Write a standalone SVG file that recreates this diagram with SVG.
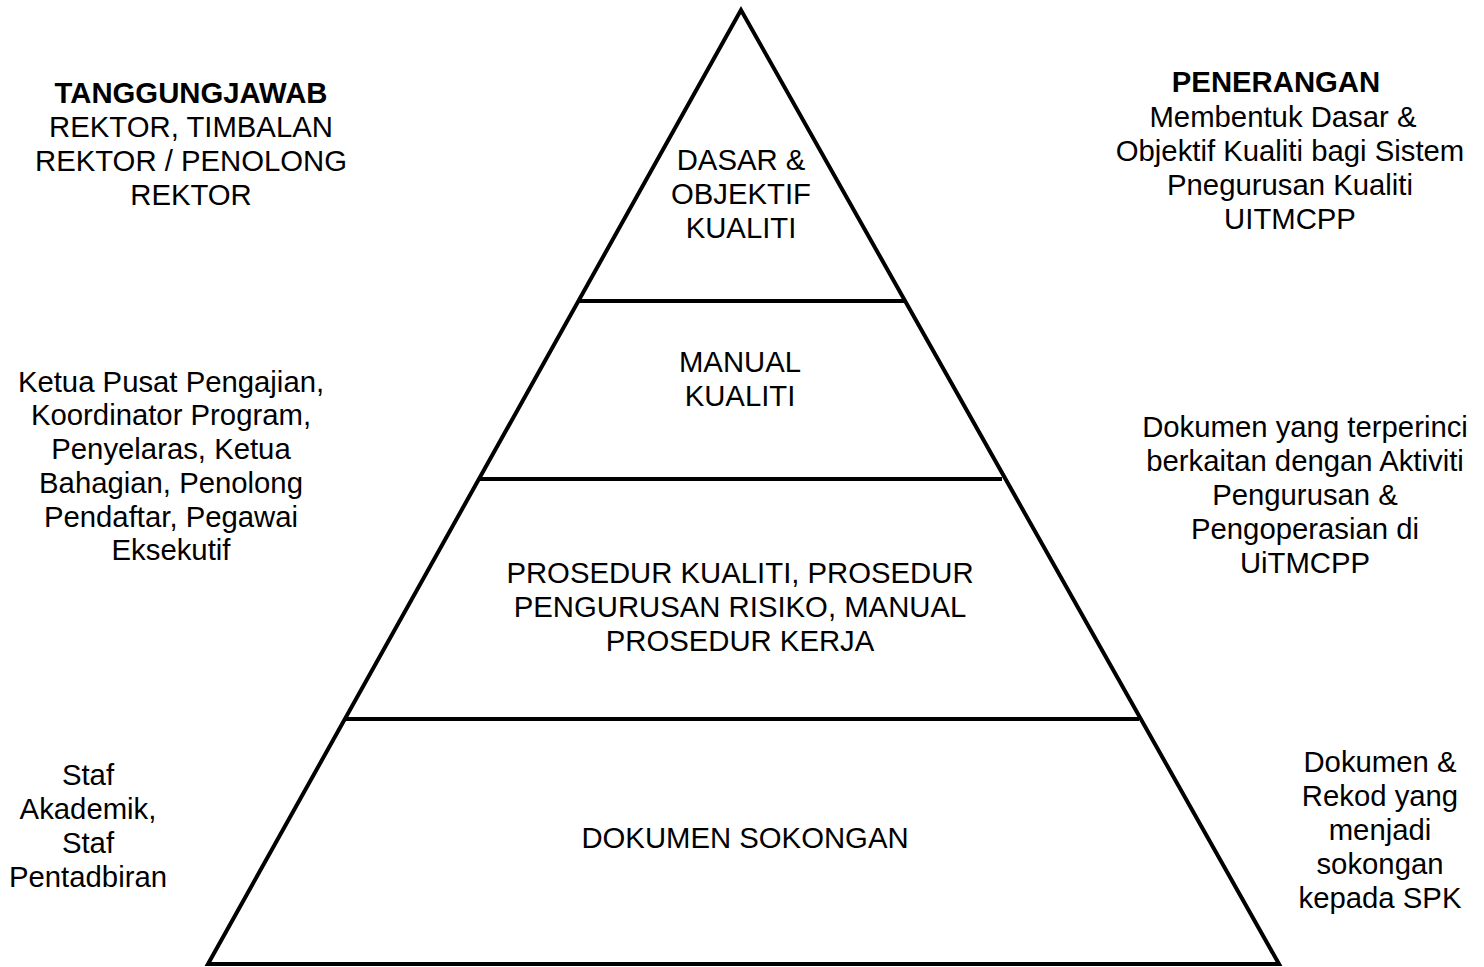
<svg xmlns="http://www.w3.org/2000/svg" width="1484" height="967" viewBox="0 0 1484 967">
<style>
.t{font-family:"Liberation Sans",Arial,sans-serif;font-size:29.3px;fill:#000;text-anchor:middle}
.b{font-weight:bold}
.s{stroke:#000;stroke-width:4;fill:none}
</style>
<rect width="1484" height="967" fill="#fff"/>
<g id="pyramid">
<polygon class="s" points="741,10 208,964 1279,964" stroke-linejoin="miter"/>
</g>
<g id="connectors">
<line class="s" x1="578" y1="301" x2="904" y2="301"/>
<line class="s" x1="479" y1="479" x2="1002" y2="479"/>
<line class="s" x1="345" y1="719" x2="1139" y2="719"/>
</g>
<g id="level1">
<text class="t" x="741" y="170">DASAR &amp;</text>
<text class="t" x="741" y="204">OBJEKTIF</text>
<text class="t" x="741" y="238">KUALITI</text>
</g>
<g id="level2">
<text class="t" x="740" y="372">MANUAL</text>
<text class="t" x="740" y="406">KUALITI</text>
</g>
<g id="level3">
<text class="t" x="740" y="583">PROSEDUR KUALITI, PROSEDUR</text>
<text class="t" x="740" y="617">PENGURUSAN RISIKO, MANUAL</text>
<text class="t" x="740" y="651">PROSEDUR KERJA</text>
</g>
<g id="level4">
<text class="t" x="745" y="848">DOKUMEN SOKONGAN</text>
</g>
<g id="resp1">
<text class="t b" x="191" y="103">TANGGUNGJAWAB</text>
<text class="t" x="191" y="137">REKTOR, TIMBALAN</text>
<text class="t" x="191" y="171">REKTOR / PENOLONG</text>
<text class="t" x="191" y="205">REKTOR</text>
</g>
<g id="resp2">
<text class="t" x="171" y="392">Ketua Pusat Pengajian,</text>
<text class="t" x="171" y="425">Koordinator Program,</text>
<text class="t" x="171" y="459">Penyelaras, Ketua</text>
<text class="t" x="171" y="493">Bahagian, Penolong</text>
<text class="t" x="171" y="527">Pendaftar, Pegawai</text>
<text class="t" x="171" y="560">Eksekutif</text>
</g>
<g id="resp3">
<text class="t" x="88" y="785">Staf</text>
<text class="t" x="88" y="819">Akademik,</text>
<text class="t" x="88" y="853">Staf</text>
<text class="t" x="88" y="887">Pentadbiran</text>
</g>
<g id="desc1">
<text class="t b" x="1276" y="92">PENERANGAN</text>
<text class="t" x="1283" y="127">Membentuk Dasar &amp;</text>
<text class="t" x="1290" y="161">Objektif Kualiti bagi Sistem</text>
<text class="t" x="1290" y="195">Pnegurusan Kualiti</text>
<text class="t" x="1290" y="229">UITMCPP</text>
</g>
<g id="desc2">
<text class="t" x="1305" y="437">Dokumen yang terperinci</text>
<text class="t" x="1305" y="471">berkaitan dengan Aktiviti</text>
<text class="t" x="1305" y="505">Pengurusan &amp;</text>
<text class="t" x="1305" y="539">Pengoperasian di</text>
<text class="t" x="1305" y="573">UiTMCPP</text>
</g>
<g id="desc3">
<text class="t" x="1380" y="772">Dokumen &amp;</text>
<text class="t" x="1380" y="806">Rekod yang</text>
<text class="t" x="1380" y="840">menjadi</text>
<text class="t" x="1380" y="874">sokongan</text>
<text class="t" x="1380" y="908">kepada SPK</text>
</g>
</svg>
